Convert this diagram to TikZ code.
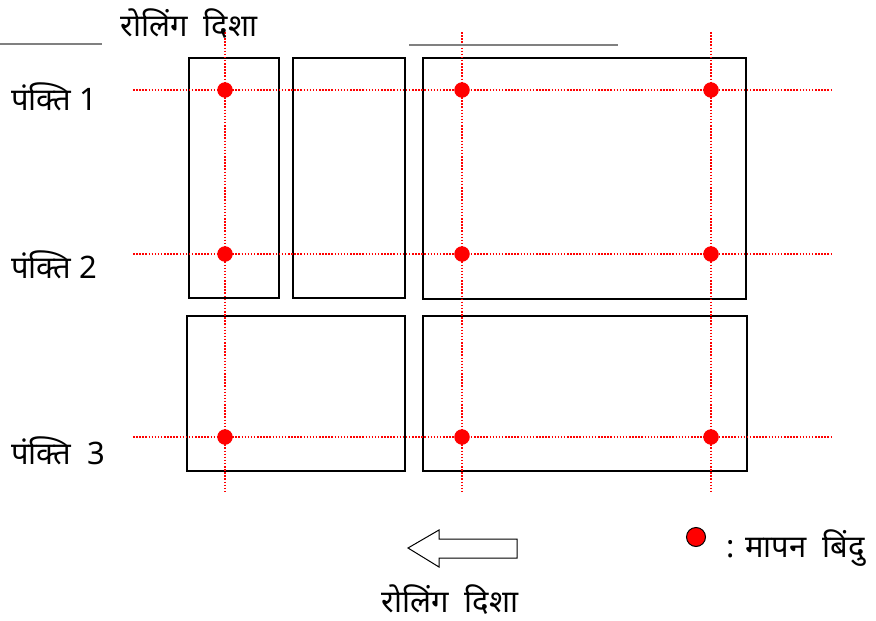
\documentclass[tikz,border=0pt]{standalone}
\usepackage{fontspec}
\setmainfont{Noto Sans}[Script=Devanagari]
\usetikzlibrary{positioning}
\tikzstyle{plate}=[draw=black, line width=1.8pt]
\tikzstyle{grid}=[draw=red, line width=1.6pt, dash pattern=on 1.5pt off 1.6pt]
\tikzstyle{point}=[circle, fill=red, inner sep=0pt, minimum size=15.5pt]
\tikzstyle{rule}=[draw=gray, line width=1.3pt]
\tikzstyle{lbl}=[inner sep=0pt, font=\fontsize{31}{36}\selectfont]

\begin{document}
\begin{tikzpicture}[x=1pt, y=-1pt]
\useasboundingbox (0,0) rectangle (876,621);

% plates
\draw[plate] (189,58) rectangle (279,298);
\draw[plate] (293,58) rectangle (405,298);
\draw[plate] (423,58) rectangle (746,299);
\draw[plate] (187,316) rectangle (405,471);
\draw[plate] (423,316) rectangle (747,471);

% grid lines through the points
\foreach \y [count=\i] in {90,254,437}
{
  \coordinate (r\i w) at (133,\y);
  \coordinate (r\i e) at (833,\y);
  \draw[grid] (r\i w) -- (r\i e);
}
\foreach \x [count=\j] in {225,462,711}
{
  \coordinate (c\j n) at (\x,32);
  \coordinate (c\j s) at (\x,493);
  \draw[grid] (c\j n) -- (c\j s);
}
\foreach \i in {1,2,3}
  \foreach \j in {1,2,3}
    \node[point] (p\i\j) at (c\j n |- r\i w) {};

% row labels
\node[lbl, anchor=west] (row1) at (11,97) {पंक्ति 1};
\node[lbl, anchor=west] (row2) at (11,265) {पंक्ति 2};
\node[lbl, anchor=west] (row3) at (11,451) {पंक्ति \ 3};

% top heading
\node[lbl] (head) at (189,24) {रोलिंग \ दिशा};
\coordinate (ra) at (0,44);
\coordinate (rb) at (102,44);
\coordinate (rc) at (409,45);
\coordinate (rd) at (618,45);
\draw[rule] (ra) -- (rb);
\draw[rule] (rc) -- (rd);

% rolling direction arrow
\coordinate (tip) at (408,548);
\draw[line width=1pt] (tip) -- ++(31,-18) -- ++(0,9) -- ++(78,0) -- ++(0,19)
  -- ++(-78,0) -- ++(0,9) -- cycle;
\node[lbl] (foot) at (450,600) {रोलिंग \ दिशा};

% legend
\node[point, draw=black, line width=1pt, minimum size=19pt] (key) at (696,537) {};
\node[lbl, anchor=west] (keytext) at (726,548) {: मापन \ बिंदु};
\end{tikzpicture}
\end{document}
